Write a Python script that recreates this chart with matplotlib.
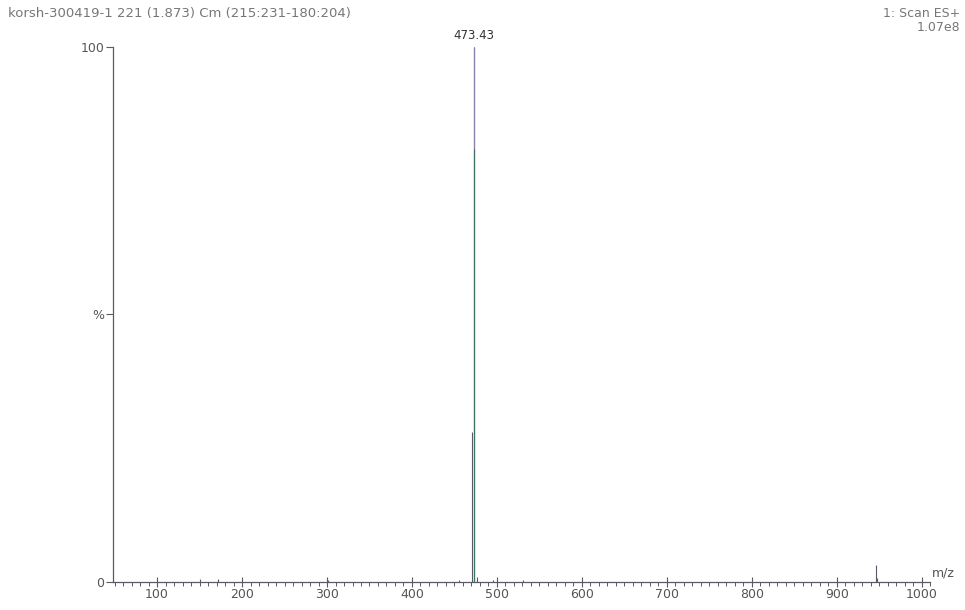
import numpy as np
import matplotlib.pyplot as plt
from matplotlib.ticker import MultipleLocator

# peak list (m/z, relative intensity %)
mz = [150.1, 172.2, 301.0, 455.0, 470.6, 473.43, 476.4, 495.3, 531.0, 945.8, 947.0]
intensity = [0.6, 0.5, 0.4, 0.3, 28.0, 100.0, 1.0, 0.4, 0.3, 3.2, 0.8]
# level where the main stick changes colour on the scan
split_level = 81.0

x_ticks = [100, 200, 300, 400, 500, 600, 700, 800, 900, 1000]
y_ticks = [0, 50, 100]
y_tick_labels = ["0", "%", "100"]

header_left = "korsh-300419-1 221 (1.873) Cm (215:231-180:204)"
header_right = "1: Scan ES+\n1.07e8"
peak_label = "473.43"

line_col = "#5a5a66"
text_col = "#555555"

fig = plt.figure(figsize=(9.65, 6.10), dpi=100)
ax = fig.add_axes([0.117, 0.046, 0.847, 0.877])

ax.vlines(mz, 0, intensity, color=line_col, linewidth=0.8)
ax.vlines(mz[5], 0, split_level, color="#3f7465", linewidth=0.9)
ax.vlines(mz[5], split_level, intensity[5], color="#8a80a8", linewidth=0.9)

ax.set_xlim(48, 1010)
ax.set_ylim(0, 100)

for side in ["top", "right"]:
    ax.spines[side].set_visible(False)
for side in ["left", "bottom"]:
    ax.spines[side].set_color(line_col)
    ax.spines[side].set_linewidth(0.9)

ax.set_xticks(x_ticks)
ax.xaxis.set_minor_locator(MultipleLocator(10))
ax.set_yticks(y_ticks)
ax.set_yticklabels(y_tick_labels)
ax.tick_params(axis="x", which="major", direction="inout", length=7, width=0.8,
               colors=line_col, labelcolor=text_col, labelsize=9, pad=1)
ax.tick_params(axis="x", which="minor", direction="out", length=3, width=0.7, colors=line_col)
ax.tick_params(axis="y", direction="out", length=5, width=0.8,
               colors=line_col, labelcolor=text_col, labelsize=9, pad=1)

ax.text(mz[5], 101, peak_label, ha="center", va="bottom", fontsize=8.5, color="#333333")
ax.text(1012, 0.5, "m/z", ha="left", va="bottom", fontsize=9, color=text_col)

fig.text(0.008, 0.978, header_left, ha="left", va="center", fontsize=9.5, color="#777777")
fig.text(0.995, 0.966, header_right, ha="right", va="center", fontsize=9,
         color="#777777", linespacing=1.05, multialignment="right")

fig.savefig("out.png", dpi=100)
